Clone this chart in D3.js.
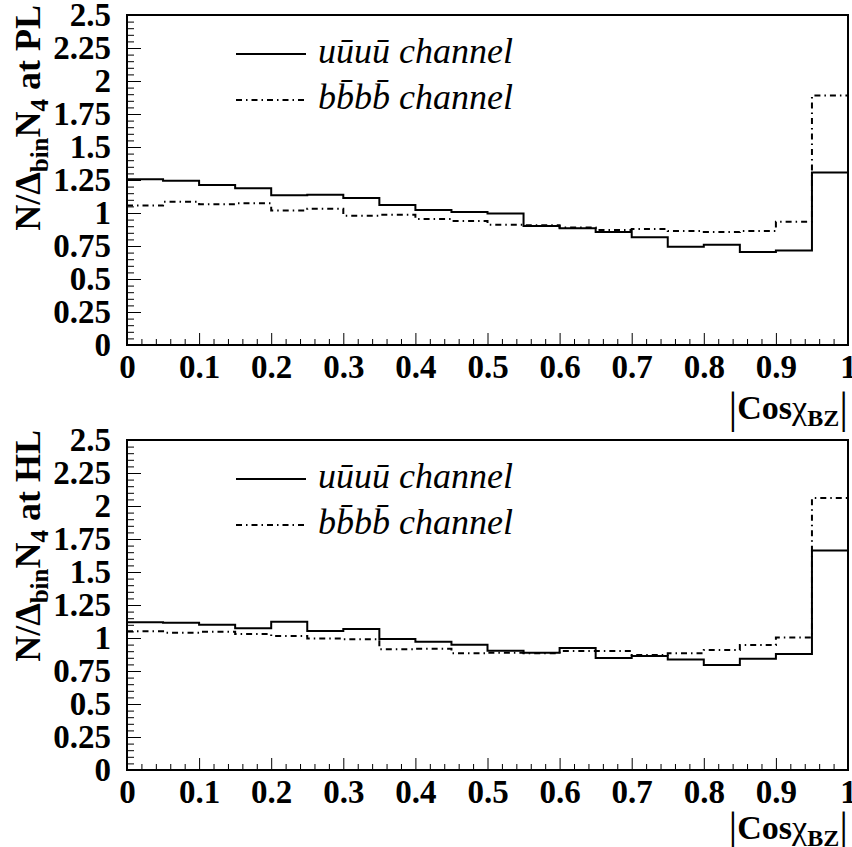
<!DOCTYPE html>
<html><head><meta charset="utf-8">
<script src="https://cdn.jsdelivr.net/npm/d3@7"></script>
<style>body{margin:0;background:#fff}svg{display:block}</style>
</head><body>
<script>
// ---- data ----
const binEdges = [0,0.05,0.1,0.15,0.2,0.25,0.3,0.35,0.4,0.45,0.5,0.55,0.6,0.65,0.7,0.75,0.8,0.85,0.9,0.95,1.0];
const uuPL = [1.255,1.245,1.212,1.187,1.134,1.139,1.114,1.061,1.023,1.008,0.997,0.902,0.884,0.856,0.816,0.745,0.760,0.705,0.715,1.306];
const bbPL = [1.056,1.086,1.066,1.073,1.018,1.033,0.980,0.987,0.955,0.940,0.911,0.907,0.891,0.871,0.879,0.864,0.856,0.864,0.934,1.890];
const uuHL = [1.119,1.116,1.101,1.073,1.124,1.053,1.068,0.992,0.972,0.949,0.904,0.889,0.924,0.848,0.864,0.838,0.795,0.843,0.879,1.662];
const bbHL = [1.051,1.040,1.048,1.030,1.015,0.997,0.990,0.914,0.919,0.884,0.889,0.884,0.902,0.902,0.871,0.884,0.909,0.947,1.003,2.060];
const xTickValues = [0,0.1,0.2,0.3,0.4,0.5,0.6,0.7,0.8,0.9,1];
const xTickLabels = ["0","0.1","0.2","0.3","0.4","0.5","0.6","0.7","0.8","0.9","1"];
const yTickValues = [0,0.25,0.5,0.75,1,1.25,1.5,1.75,2,2.25,2.5];
const yTickLabels = ["0","0.25","0.5","0.75","1","1.25","1.5","1.75","2","2.25","2.5"];
const legendLabels = ["u\u016Bu\u016B channel","bb\u0304bb\u0304 channel"];
const panelTags = ["PL","HL"];

// ---- layout ----
const W = 852, H = 847;
const L = 127, R = 848, PH = 330;
const panelTops = [15, 440];
const xTitleOffsets = [74, 69];
const DASH = "6,4,1.5,4";
const SERIF = "'Liberation Serif','Times New Roman',serif";

const svg = d3.select("body").append("svg").attr("width", W).attr("height", H)
  .style("background", "#fff");

const x = d3.scaleLinear().domain([0,1]).range([L, R]);

function panel(top, uu, bb, tag, xTitleOff) {
  const y = d3.scaleLinear().domain([0,2.5]).range([top+PH, top]);
  const g = svg.append("g");

  // minor ticks
  const xMinor = d3.range(0, 1.0001, 0.02).filter(v => Math.abs(v*10 - Math.round(v*10)) > 1e-6);
  const yMinor = d3.range(0, 2.5001, 0.05).filter(v => Math.abs(v*4 - Math.round(v*4)) > 1e-6);

  g.append("g").attr("transform", `translate(0,${top+PH})`)
    .call(d3.axisBottom(x).tickValues(xMinor).tickSize(-6).tickFormat(""))
    .call(s => s.select(".domain").remove())
    .selectAll("line").attr("stroke", "#000").attr("stroke-width", 1);
  g.append("g").attr("transform", `translate(${L},0)`)
    .call(d3.axisLeft(y).tickValues(yMinor).tickSize(-7).tickFormat(""))
    .call(s => s.select(".domain").remove())
    .selectAll("line").attr("stroke", "#000").attr("stroke-width", 1);

  // major ticks + labels
  const xa = g.append("g").attr("transform", `translate(0,${top+PH})`)
    .call(d3.axisBottom(x).tickValues(xTickValues).tickSize(-12).tickPadding(10)
      .tickFormat((d,i) => xTickLabels[i]));
  xa.select(".domain").remove();
  xa.selectAll("line").attr("stroke", "#000").attr("stroke-width", 1);
  xa.selectAll("text").attr("font-family", SERIF).attr("font-weight", "bold")
    .attr("font-size", 33).attr("fill", "#000");

  const ya = g.append("g").attr("transform", `translate(${L},0)`)
    .call(d3.axisLeft(y).tickValues(yTickValues).tickSize(-14).tickPadding(16)
      .tickFormat((d,i) => yTickLabels[i]));
  ya.select(".domain").remove();
  ya.selectAll("line").attr("stroke", "#000").attr("stroke-width", 1);
  ya.selectAll("text").attr("font-family", SERIF).attr("font-weight", "bold")
    .attr("font-size", 33).attr("fill", "#000");

  // histograms
  const line = d3.line().x(d => x(d[0])).y(d => y(d[1])).curve(d3.curveStepAfter);
  const pts = vals => vals.map((v,i) => [binEdges[i], v]).concat([[binEdges[binEdges.length-1], vals[vals.length-1]]]);
  g.append("path").attr("d", line(pts(bb))).attr("fill", "none").attr("stroke", "#000")
    .attr("stroke-width", 2).attr("stroke-dasharray", DASH);
  g.append("path").attr("d", line(pts(uu))).attr("fill", "none").attr("stroke", "#000")
    .attr("stroke-width", 2);

  // frame
  g.append("rect").attr("x", L).attr("y", top).attr("width", R-L).attr("height", PH)
    .attr("fill", "none").attr("stroke", "#000").attr("stroke-width", 2);

  // legend
  const leg = [{dash: null, y: top+39}, {dash: DASH, y: top+85}];
  leg.forEach((l,i) => {
    g.append("line").attr("x1", 236).attr("x2", 306).attr("y1", l.y).attr("y2", l.y)
      .attr("stroke", "#000").attr("stroke-width", 2)
      .attr("stroke-dasharray", l.dash);
    g.append("text").attr("x", 318).attr("y", l.y+9).text(legendLabels[i])
      .attr("font-family", SERIF).attr("font-style", "italic").attr("font-size", 36);
  });

  // y title
  const yt = g.append("text").attr("transform", `translate(40,${top-10}) rotate(-90)`)
    .attr("text-anchor", "end").attr("font-family", SERIF).attr("font-weight", "bold")
    .attr("font-size", 36);
  yt.append("tspan").text("N/\u0394");
  yt.append("tspan").text("bin").attr("font-size", 25).attr("dy", 8);
  yt.append("tspan").text("N").attr("dy", -8);
  yt.append("tspan").text("4").attr("font-size", 25).attr("dy", 8);
  yt.append("tspan").text(" at " + tag).attr("dy", -8);

  // x title
  const xt = g.append("text").attr("x", R).attr("y", top+PH+xTitleOff).attr("text-anchor", "end")
    .attr("font-family", SERIF).attr("font-weight", "bold").attr("font-size", 34);
  xt.append("tspan").text("|").attr("font-weight", "normal").attr("font-size", 44).attr("dy", 4);
  xt.append("tspan").text("Cos").attr("dy", -4);
  xt.append("tspan").text("\u03C7").attr("font-weight", "normal");
  xt.append("tspan").text("BZ").attr("font-size", 24).attr("dy", 7);
  xt.append("tspan").text("|").attr("font-weight", "normal").attr("font-size", 44).attr("dy", -3);
}

panel(panelTops[0], uuPL, bbPL, panelTags[0], xTitleOffsets[0]);
panel(panelTops[1], uuHL, bbHL, panelTags[1], xTitleOffsets[1]);
</script>
</body></html>
